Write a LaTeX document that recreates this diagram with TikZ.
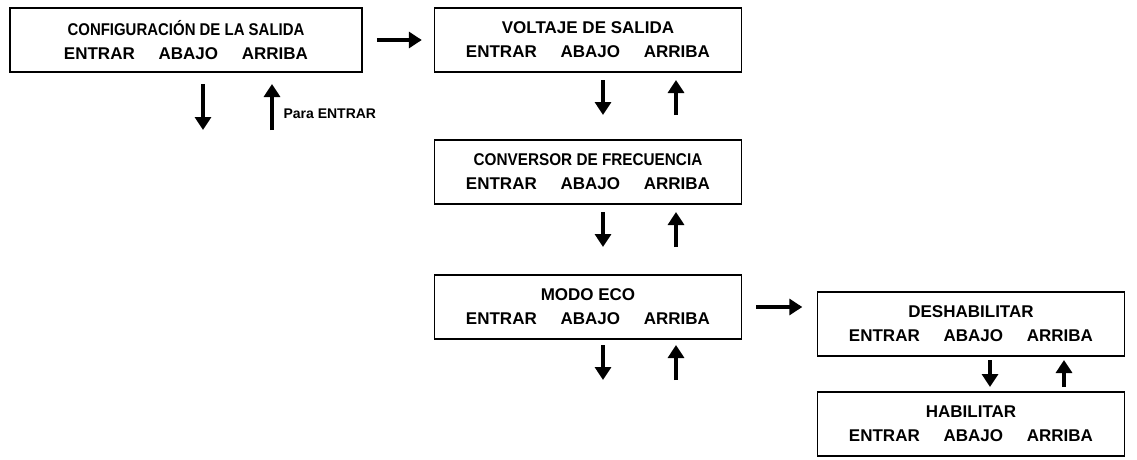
\documentclass[tikz,border=0pt]{standalone}
\usepackage{fontspec}
\setmainfont{Liberation Sans}
\usetikzlibrary{arrows.meta,positioning}
\tikzset{
  menu/.style={draw, line width=1.6pt, minimum width=307pt, minimum height=64pt,
    align=center, font=\bfseries\fontsize{17}{24}\selectfont, inner sep=0pt},
  go/.style={line width=4pt, -{Triangle[length=13pt,width=16pt]}}
}
\newcommand{\keys}{ENTRAR\hspace{1.4em}ABAJO\hspace{1.4em}ARRIBA}
\begin{document}
\begin{tikzpicture}[x=1pt, y=-1pt]
    \useasboundingbox (0,0) rectangle (1137,460);
	\node[menu, minimum width=352pt] (salida) at (186,40) {\scalebox{0.88}[1]{CONFIGURACIÓN DE LA SALIDA}\\\keys};
	\node[menu] (voltaje) at (588,40) {VOLTAJE DE SALIDA\\\keys};
	\node[menu] (conversor) at (588,172) {\scalebox{0.9}[1]{CONVERSOR DE FRECUENCIA}\\\keys};
	\node[menu] (eco) at (588,307) {MODO ECO\\\keys};
	\node[menu] (deshab) at (971,324) {DESHABILITAR\\\keys};
	\node[menu] (hab) at (971,424) {HABILITAR\\\keys};
    % right arrows
    \draw[go] (salida.east) ++(14,0) coordinate (s1) -- ++(45,0) coordinate (s2);
    \draw[go] (eco.east) ++(14,0) coordinate (e1) -- ++(46,0) coordinate (e2);
    % down / up pairs
    \coordinate (sd1) at (203,84); \coordinate (sd2) at (203,130);
    \coordinate (su1) at (272,130); \coordinate (su2) at (272,84);
    \draw[go] (sd1) -- (sd2);
    \draw[go] (su1) -- (su2);
    \node[font=\bfseries\fontsize{14}{16}\selectfont, right=8pt of su1, yshift=16pt] (para) {Para ENTRAR};
    \foreach \b/\t in {voltaje/80, conversor/212, eco/345}{
      \coordinate (d1) at (603,\t); \coordinate (d2) at (603,\t+35);
      \coordinate (u1) at (676,\t+35); \coordinate (u2) at (676,\t);
      \draw[go] (d1) -- (d2);
      \draw[go] (u1) -- (u2);
    }
    \coordinate (hd1) at (990,360); \coordinate (hd2) at (990,387);
    \coordinate (hu1) at (1064,387); \coordinate (hu2) at (1064,360);
    \draw[go] (hd1) -- (hd2);
    \draw[go] (hu1) -- (hu2);
\end{tikzpicture}
\end{document}
